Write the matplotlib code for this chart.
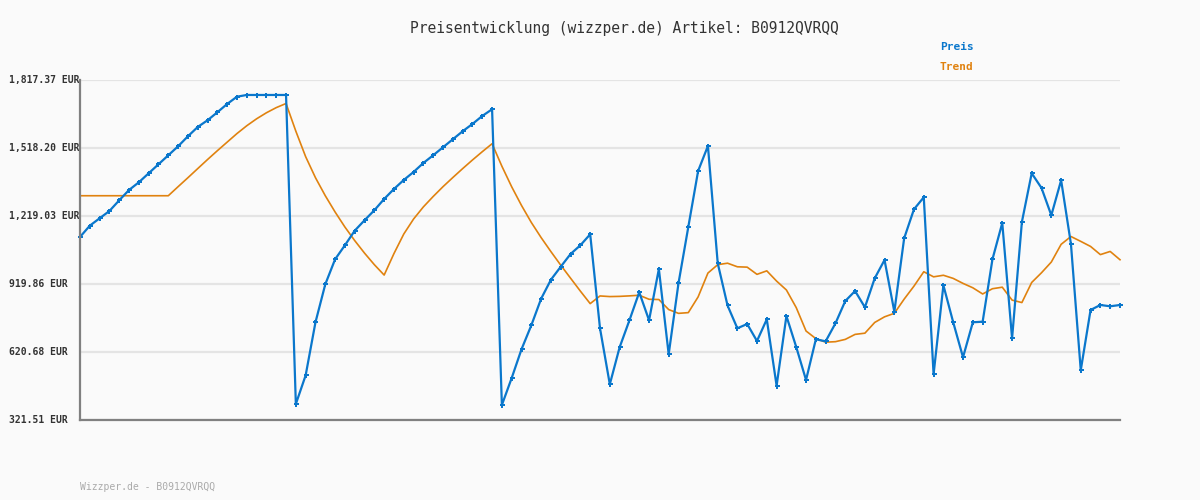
import matplotlib
matplotlib.use("Agg")
import matplotlib.pyplot as plt
import matplotlib.transforms as mtransforms

# prices (EUR), one per sample
preis = [1126.7, 1176.4, 1209.0, 1241.1, 1288.2, 1333.5, 1367.4, 1407.0, 1446.6, 1486.2,
         1525.8, 1569.8, 1610.7, 1640.2, 1675.4, 1711.9, 1744.0, 1751.5, 1751.5, 1751.5,
         1751.5, 1751.5, 391.9, 518.2, 751.4, 918.6, 1028.6, 1090.2, 1154.4, 1200.2,
         1244.2, 1293.9, 1337.9, 1377.5, 1412.7, 1452.3, 1486.2, 1521.4, 1556.6, 1591.8,
         1623.9, 1659.1, 1688.6, 387.5, 506.3, 632.6, 738.2, 855.2, 938.8, 996.0,
         1051.9, 1090.2, 1138.6, 725.0, 478.6, 641.4, 760.2, 883.4, 760.2, 985.9,
         610.6, 923.0, 1170.7, 1417.1, 1527.1, 1011.0, 825.3, 725.0, 743.9, 669.1,
         764.6, 472.4, 779.1, 642.7, 497.5, 676.6, 667.8, 747.0, 845.1, 889.1,
         817.4, 945.0, 1025.5, 798.0, 1121.0, 1248.6, 1301.4, 522.6, 914.2, 751.4,
         597.4, 751.4, 754.0, 1028.6, 1188.3, 681.0, 1192.7, 1407.0, 1342.3, 1222.2,
         1376.2, 1095.9, 540.2, 805.5, 827.5, 821.8, 827.5]

# trend line as drawn in the reference (EUR)
trend = [1308.2, 1308.2, 1308.2, 1308.2, 1308.2, 1308.2, 1308.2, 1308.2, 1308.2, 1308.2,
         1348.1, 1387.5, 1427.6, 1467.5, 1506.3, 1544.1, 1581.8, 1616.2, 1646.7, 1673.2,
         1695.8, 1714.0, 1592.1, 1479.9, 1387.5, 1308.2, 1236.6, 1170.5, 1110.8, 1055.7,
         1004.9, 959.2, 1053.8, 1139.7, 1205.8, 1259.2, 1305.0, 1348.1, 1388.3, 1427.5,
         1465.4, 1501.9, 1537.0, 1438.0, 1347.4, 1265.4, 1190.6, 1124.0, 1062.2, 1002.6,
         945.4, 888.5, 833.5, 867.3, 864.5, 865.4, 867.6, 870.4, 852.6, 851.5,
         807.4, 790.7, 793.9, 863.1, 968.0, 1004.9, 1011.4, 995.6, 994.0, 962.3,
         977.7, 932.6, 893.5, 816.0, 713.1, 679.6, 663.9, 666.1, 676.2, 698.2,
         703.5, 750.7, 775.4, 790.9, 853.3, 910.5, 973.8, 951.4, 958.3, 944.5,
         922.5, 903.2, 876.0, 899.1, 905.8, 849.0, 838.2, 926.6, 969.4, 1016.5,
         1094.4, 1128.8, 1107.4, 1085.1, 1049.1, 1063.1, 1026.6]

yticks = [321.51, 620.68, 919.86, 1219.03, 1518.20, 1817.37]
ylabels = ["321.51 EUR", "620.68 EUR", "919.86 EUR", "1,219.03 EUR", "1,518.20 EUR", "1,817.37 EUR"]

blau = "#0a77cc"
orange = "#e0820f"
bg = "#fafafa"
mono = "DejaVu Sans Mono"

fig = plt.figure(figsize=(12, 5), dpi=100, facecolor=bg)
ax = fig.add_axes([80 / 1200, 80 / 500, 1040 / 1200, 340 / 500])
ax.set_facecolor(bg)

x = list(range(len(preis)))
ax.plot(x, trend, color=orange, lw=1.2, zorder=3, clip_on=False)
ax.plot(x, preis, color=blau, lw=1.6, marker="P", markersize=3.6,
        markeredgewidth=0, zorder=4, clip_on=False)

ax.set_xlim(0, len(preis) - 1)
ax.set_ylim(yticks[0], yticks[-1])
ax.set_xticks([])
ax.set_yticks(yticks)
ax.set_yticklabels([])
ax.tick_params(axis="y", length=0)
ax.grid(axis="y", color="#e4e4e4", lw=1.6, zorder=0)
for s in ["top", "right"]:
    ax.spines[s].set_visible(False)
for s in ["left", "bottom"]:
    ax.spines[s].set_color("#808080")
    ax.spines[s].set_linewidth(1.6)
    ax.spines[s].set_zorder(5)

trans = mtransforms.blended_transform_factory(fig.transFigure, ax.transData)
for v, lab in zip(yticks, ylabels):
    ax.text(9 / 1200, v, lab, transform=trans, ha="left", va="center",
            family=mono, fontsize=7, fontweight="bold", color="#333333")

fig.text(624 / 1200, 1 - 28 / 500, "Preisentwicklung (wizzper.de) Artikel: B0912QVRQQ",
         ha="center", va="center", family=mono, fontsize=10.5, color="#333333")
fig.text(940 / 1200, 1 - 47 / 500, "Preis", ha="left", va="center",
         family=mono, fontsize=8, fontweight="bold", color=blau)
fig.text(940 / 1200, 1 - 67 / 500, "Trend", ha="left", va="center",
         family=mono, fontsize=8, fontweight="bold", color=orange)
fig.text(80 / 1200, 1 - 487 / 500, "Wizzper.de - B0912QVRQQ", ha="left", va="center",
         family=mono, fontsize=7, color="#aaaaaa")

fig.savefig("out.png", dpi=100, facecolor=bg)
